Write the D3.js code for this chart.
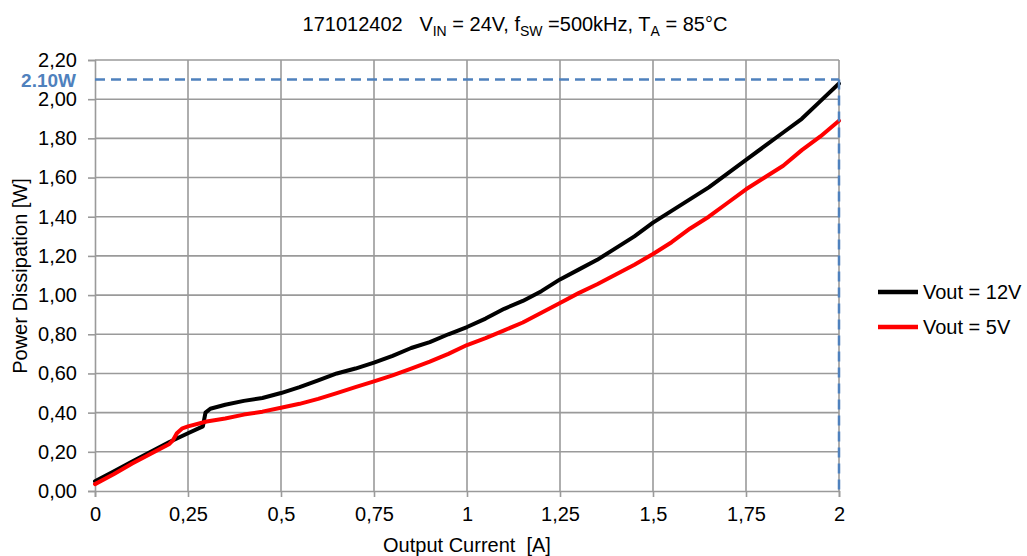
<!DOCTYPE html>
<html>
<head>
<meta charset="utf-8">
<script src="https://cdn.jsdelivr.net/npm/d3@7"></script>
<style>
  body { margin: 0; background: #fff; }
  svg { font-family: "Liberation Sans", Arial, sans-serif; }
  text { white-space: pre; }
</style>
</head>
<body>
<svg id="chart" width="1027" height="556"></svg>
<script>
// ---- data ----
const xTicks = [0, 0.25, 0.5, 0.75, 1, 1.25, 1.5, 1.75, 2];
const xTickLabels = ["0", "0,25", "0,5", "0,75", "1", "1,25", "1,5", "1,75", "2"];
const yTicks = [0, 0.2, 0.4, 0.6, 0.8, 1.0, 1.2, 1.4, 1.6, 1.8, 2.0, 2.2];
const yTickLabels = ["0,00", "0,20", "0,40", "0,60", "0,80", "1,00", "1,20", "1,40", "1,60", "1,80", "2,00", "2,20"];

const current12 = [0, 0.05, 0.1, 0.15, 0.2, 0.25, 0.29, 0.297, 0.31, 0.35, 0.4, 0.45, 0.5, 0.55, 0.6, 0.65, 0.7, 0.75, 0.8, 0.85, 0.9, 0.95, 1.0, 1.05, 1.1, 1.15, 1.2, 1.25, 1.3, 1.35, 1.4, 1.45, 1.5, 1.55, 1.6, 1.65, 1.7, 1.75, 1.8, 1.85, 1.9, 1.95, 2.0];
const power12 = [0.05, 0.10, 0.15, 0.20, 0.25, 0.295, 0.33, 0.40, 0.42, 0.44, 0.46, 0.475, 0.50, 0.53, 0.565, 0.60, 0.625, 0.655, 0.69, 0.73, 0.76, 0.80, 0.837, 0.88, 0.93, 0.97, 1.02, 1.08, 1.13, 1.18, 1.24, 1.30, 1.37, 1.43, 1.49, 1.55, 1.62, 1.69, 1.76, 1.83, 1.90, 1.99, 2.08];

const current5 = [0, 0.05, 0.1, 0.15, 0.2, 0.21, 0.22, 0.235, 0.25, 0.3, 0.35, 0.4, 0.45, 0.5, 0.55, 0.6, 0.65, 0.7, 0.75, 0.8, 0.85, 0.9, 0.95, 1.0, 1.05, 1.1, 1.15, 1.2, 1.25, 1.3, 1.35, 1.4, 1.45, 1.5, 1.55, 1.6, 1.65, 1.7, 1.75, 1.8, 1.85, 1.9, 1.95, 2.0];
const power5 = [0.035, 0.085, 0.14, 0.19, 0.24, 0.26, 0.295, 0.32, 0.33, 0.355, 0.37, 0.39, 0.405, 0.425, 0.445, 0.47, 0.50, 0.53, 0.56, 0.59, 0.625, 0.66, 0.70, 0.745, 0.78, 0.82, 0.86, 0.91, 0.96, 1.01, 1.055, 1.105, 1.155, 1.21, 1.27, 1.34, 1.40, 1.47, 1.54, 1.60, 1.66, 1.74, 1.81, 1.89];

const seriesNames = ["Vout = 12V", "Vout = 5V"];
const seriesColors = ["#000000", "#ff0000"];
const limitValue = 2.10;
const limitLabel = "2.10W";

// ---- layout ----
const svg = d3.select("#chart");
const plotL = 95, plotR = 839, plotT = 60, plotB = 491;
const x = d3.scaleLinear().domain([0, 2]).range([plotL, plotR]);
const y = d3.scaleLinear().domain([0, 2.2]).range([plotB, plotT]);

const gridColor = "#9a9a9a";
const fontSize = 20;

// grid
svg.append("g").selectAll("line").data(xTicks.slice(1)).join("line")
  .attr("x1", d => x(d)).attr("x2", d => x(d))
  .attr("y1", plotT).attr("y2", plotB)
  .attr("stroke", gridColor).attr("stroke-width", 1.6);
svg.append("g").selectAll("line").data(yTicks.slice(1)).join("line")
  .attr("x1", plotL).attr("x2", plotR)
  .attr("y1", d => y(d)).attr("y2", d => y(d))
  .attr("stroke", gridColor).attr("stroke-width", 1.6);

// axes
const xAxis = d3.axisBottom(x).tickValues(xTicks).tickFormat((d, i) => xTickLabels[i]).tickSize(6).tickPadding(10);
const gx = svg.append("g").attr("transform", `translate(0,${plotB})`).call(xAxis);
gx.select(".domain").attr("stroke", gridColor).attr("stroke-width", 1.6);
gx.selectAll(".tick line").attr("stroke", gridColor).attr("stroke-width", 1.6);
gx.selectAll("text").attr("font-size", fontSize).attr("fill", "#000").attr("font-family", "Liberation Sans, Arial, sans-serif");

const yAxis = d3.axisLeft(y).tickValues(yTicks).tickFormat((d, i) => yTickLabels[i]).tickSize(7).tickPadding(11);
const gy = svg.append("g").attr("transform", `translate(${plotL},0)`).call(yAxis);
gy.select(".domain").attr("stroke", gridColor).attr("stroke-width", 1.6);
gy.selectAll(".tick line").attr("stroke", gridColor).attr("stroke-width", 1.6);
gy.selectAll("text").attr("font-size", fontSize).attr("fill", "#000").attr("font-family", "Liberation Sans, Arial, sans-serif");

// series
const line = d3.line().x(d => x(d[0])).y(d => y(d[1])).curve(d3.curveLinear);
const data12 = current12.map((c, i) => [c, power12[i]]);
const data5 = current5.map((c, i) => [c, power5[i]]);
[data12, data5].forEach((dat, i) => {
  svg.append("path").datum(dat).attr("d", line)
    .attr("fill", "none").attr("stroke", seriesColors[i])
    .attr("stroke-width", 4).attr("stroke-linejoin", "round").attr("stroke-linecap", "round");
});

// limit dashed lines
svg.append("line")
  .attr("x1", plotL).attr("x2", x(2)).attr("y1", y(limitValue)).attr("y2", y(limitValue))
  .attr("stroke", "#4f81bd").attr("stroke-width", 2.5).attr("stroke-dasharray", "10,6");
svg.append("line")
  .attr("x1", x(2)).attr("x2", x(2)).attr("y1", y(limitValue)).attr("y2", y(0))
  .attr("stroke", "#4f81bd").attr("stroke-width", 2.5).attr("stroke-dasharray", "10,6");
svg.append("text").attr("x", 76).attr("y", y(limitValue) + 7)
  .attr("text-anchor", "end").attr("font-size", 19).attr("font-weight", "bold")
  .attr("fill", "#4f81bd").text(limitLabel);

// title
const title = svg.append("text").attr("x", 515).attr("y", 31).attr("text-anchor", "middle")
  .attr("font-size", 20).attr("fill", "#000");
title.append("tspan").text("171012402   V");
title.append("tspan").attr("font-size", 14).attr("dy", 5).text("IN");
title.append("tspan").attr("dy", -5).text(" = 24V, f");
title.append("tspan").attr("font-size", 14).attr("dy", 5).text("SW");
title.append("tspan").attr("dy", -5).text(" =500kHz, T");
title.append("tspan").attr("font-size", 14).attr("dy", 5).text("A");
title.append("tspan").attr("dy", -5).text(" = 85°C");

// axis titles
svg.append("text").attr("x", 467).attr("y", 552).attr("text-anchor", "middle")
  .attr("font-size", fontSize).attr("fill", "#000").text("Output Current  [A]");
svg.append("text").attr("transform", `translate(27,276) rotate(-90)`)
  .attr("text-anchor", "middle").attr("font-size", fontSize).attr("fill", "#000").text("Power Dissipation [W]");

// legend
const legendY = [292, 327];
seriesNames.forEach((name, i) => {
  svg.append("line").attr("x1", 878).attr("x2", 918).attr("y1", legendY[i]).attr("y2", legendY[i])
    .attr("stroke", seriesColors[i]).attr("stroke-width", 4.5);
  svg.append("text").attr("x", 923).attr("y", legendY[i] + 7).attr("font-size", fontSize).attr("fill", "#000").text(name);
});
</script>
</body>
</html>
